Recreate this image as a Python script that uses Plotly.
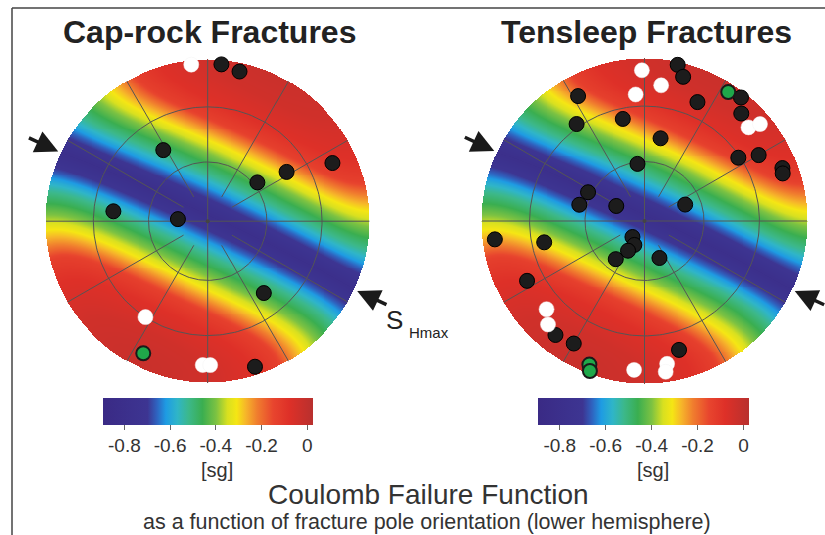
import numpy as np
import plotly.graph_objects as go

W, H = 825, 535
FONT = "Liberation Sans, Arial, sans-serif"

# ---------------------------------------------------------------------------
# Fracture poles (trend / plunge, degrees, lower hemisphere)
# ---------------------------------------------------------------------------
cap_black_trend = [5, 12, 328, 65, 58, 52, 276, 274, 142, 162]
cap_black_plunge = [3, 6, 47, 16, 42, 58, 41, 75, 43, 6]
cap_white_trend = [354, 213, 182, 179]
cap_white_plunge = [3, 30, 12, 12]
cap_green_trend = [206]
cap_green_plunge = [10]

ten_black_trend = [12, 15, 332, 325, 348, 24, 38, 42, 11, 56, 60, 69, 71, 353, 297,
                   284, 298, 68, 263, 258, 217, 203, 209, 217, 158, 243, 218, 210, 165]
ten_black_plunge = [2, 9, 14, 28, 36, 21, 4, 12, 47, 31, 20, 10, 11, 61, 58,
                    56, 74, 68, 8, 37, 80, 77, 73, 66, 70, 20, 12, 14, 19]
ten_white_trend = [359, 7, 356, 48, 50, 228, 223, 184, 171, 172]
ten_white_plunge = [8, 17, 23, 15, 8, 20, 14, 9, 12, 7]
ten_green_trend = [33, 201, 200]
ten_green_plunge = [6, 6, 2]

# Stress frame: S_Hmax horizontal; Shmin axis tilted a few degrees
shmax_trend = 115
shmin_plunge = 3
shmax_weight = 0.61   # relative weight of the S_Hmax component in the pole angle

# Coulomb failure function vs. effective angle between pole and Shmin axis
pole_angle_deg = [0, 20, 35, 44, 49, 53, 56, 61, 66.5, 72, 76, 80, 84, 90]
cff_value = [-0.02, -0.04, -0.08, -0.13, -0.22, -0.28, -0.32, -0.39, -0.46, -0.53,
             -0.59, -0.66, -0.72, -0.80]

# colour scale
cmin, cmax = -0.895, 0.024
scale_values = [-0.895, -0.70, -0.66, -0.62, -0.57, -0.52, -0.46, -0.40, -0.35,
                -0.31, -0.27, -0.22, -0.15, -0.08, 0.024]
scale_colors = ["#3a2a85", "#3d3592", "#2f62bf", "#1e9be3", "#2fb5c8", "#3cb88a",
                "#3aae50", "#7cc242", "#d8e020", "#f5e614", "#f6b52a", "#f07d2e",
                "#e8452e", "#de3028", "#b8302e"]
tick_vals = [-0.8, -0.6, -0.4, -0.2, 0]
tick_text = ["-0.8", "-0.6", "-0.4", "-0.2", "0"]

colorscale = [[(v - cmin) / (cmax - cmin), c] for v, c in zip(scale_values, scale_colors)]
colorscale[0][0] = 0.0
colorscale[-1][0] = 1.0


def unit(trend, plunge):
    t, p = np.radians(trend), np.radians(plunge)
    return np.array([np.cos(p) * np.sin(t), np.cos(p) * np.cos(t), np.sin(p)])


def project(trend, plunge):
    """Equal-area (Schmidt) projection, lower hemisphere, unit radius."""
    t = np.radians(np.asarray(trend, float))
    p = np.radians(np.asarray(plunge, float))
    r = np.sqrt(2) * np.sin((np.pi / 2 - p) / 2)
    return r * np.sin(t), r * np.cos(t)


# CFF field over the net
n = 331
g = np.linspace(-1, 1, n)
X, Y = np.meshgrid(g, g)
R = np.hypot(X, Y)
theta = 2 * np.arcsin(np.clip(R, 0, 1) / np.sqrt(2))
az = np.arctan2(X, Y)
pole = np.stack([np.sin(theta) * np.sin(az), np.sin(theta) * np.cos(az), np.cos(theta)])

h_ax = unit(shmax_trend + 90, shmin_plunge)
H_ax = unit(shmax_trend, 0)
V_ax = np.cross(h_ax, H_ax)
ca = np.tensordot(h_ax, pole, axes=1)
cb = np.tensordot(H_ax, pole, axes=1)
cc = np.tensordot(V_ax, pole, axes=1)
cos2 = ca ** 2 / (ca ** 2 + shmax_weight * cb ** 2 + cc ** 2)
alpha = np.degrees(np.arccos(np.sqrt(np.clip(cos2, 0, 1))))
Z = np.interp(alpha, pole_angle_deg, cff_value)
Z = np.round(Z, 3).astype(object)
Z[R > 1.0] = None
Z = Z.tolist()

# net geometry on the page
nets = [
    dict(cx=207.7, cy=221.2, r=161.7, cbx=207.7, cblen=210,
         title="Cap-rock Fractures", tx=209, data=(
             (cap_black_trend, cap_black_plunge),
             (cap_white_trend, cap_white_plunge),
             (cap_green_trend, cap_green_plunge))),
    dict(cx=644.5, cy=221.0, r=162.5, cbx=643.5, cblen=211,
         title="Tensleep Fractures", tx=646, data=(
             (ten_black_trend, ten_black_plunge),
             (ten_white_trend, ten_white_plunge),
             (ten_green_trend, ten_green_plunge))),
]
K = 1.1  # axis half-range in net radii

fig = go.Figure()
layout_axes = {}
annotations = []
shapes = []

for i, net in enumerate(nets):
    xa = "x" if i == 0 else "x2"
    ya = "y" if i == 0 else "y2"
    xkey = "xaxis" if i == 0 else "xaxis2"
    ykey = "yaxis" if i == 0 else "yaxis2"
    half = K * net["r"]
    layout_axes[xkey] = dict(domain=[(net["cx"] - half) / W, (net["cx"] + half) / W],
                             range=[-K, K], visible=False, fixedrange=True,
                             anchor=ya)
    layout_axes[ykey] = dict(domain=[(H - net["cy"] - half) / H, (H - net["cy"] + half) / H],
                             range=[-K, K], visible=False, fixedrange=True,
                             anchor=xa)

    fig.add_trace(go.Heatmap(
        x=g, y=g, z=Z, xaxis=xa, yaxis=ya, zmin=cmin, zmax=cmax,
        colorscale=colorscale, zsmooth=False, hoverinfo="skip",
        colorbar=dict(orientation="h", x=net["cbx"] / W, xanchor="center",
                      y=(H - 398) / H, yanchor="top", len=net["cblen"] / W,
                      lenmode="fraction", thickness=27, thicknessmode="pixels",
                      xpad=0, ypad=0, outlinewidth=0, ticks="outside", ticklen=5,
                      tickwidth=1, tickcolor="#666", tickvals=tick_vals,
                      ticktext=tick_text,
                      tickfont=dict(family=FONT, size=19, color="#333"))))

    # grid: small circles at 30 and 60 degrees from the vertical
    tt = np.linspace(0, 2 * np.pi, 241)
    for rr in (np.sqrt(2) * np.sin(np.radians(15)), np.sqrt(2) * np.sin(np.radians(30))):
        fig.add_trace(go.Scatter(x=rr * np.sin(tt), y=rr * np.cos(tt), mode="lines",
                                 line=dict(color="#555", width=1), xaxis=xa, yaxis=ya,
                                 hoverinfo="skip"))
    # N-S and E-W diameters
    fig.add_trace(go.Scatter(x=[-1, 1, None, 0, 0], y=[0, 0, None, -1, 1], mode="lines",
                             line=dict(color="#555", width=1), xaxis=xa, yaxis=ya,
                             hoverinfo="skip"))
    # radial spokes every 30 degrees
    r0 = np.sqrt(2) * np.sin(np.radians(7))
    sx, sy = [], []
    for a in (30, 60, 120, 150, 210, 240, 300, 330):
        ar = np.radians(a)
        sx += [r0 * np.sin(ar), np.sin(ar), None]
        sy += [r0 * np.cos(ar), np.cos(ar), None]
    fig.add_trace(go.Scatter(x=sx, y=sy, mode="lines", line=dict(color="#555", width=1),
                             xaxis=xa, yaxis=ya, hoverinfo="skip"))
    fig.add_trace(go.Scatter(x=[0], y=[0], mode="markers",
                             marker=dict(size=4, color="#444"), xaxis=xa, yaxis=ya,
                             hoverinfo="skip"))

    # poles
    styles = [dict(size=15, color="#1c1c1c", line=dict(color="#000", width=1)),
              dict(size=15, color="#ffffff", line=dict(color="#f2f2f2", width=0.5)),
              dict(size=14, color="#1fa84a", line=dict(color="#1a1a1a", width=2))]
    for (tr, pl), st in zip(net["data"], styles):
        px, py = project(tr, pl)
        fig.add_trace(go.Scatter(x=px, y=py, mode="markers", marker=st, xaxis=xa,
                                 yaxis=ya, cliponaxis=False))

    # S_Hmax arrows
    for t in (shmax_trend + 180, shmax_trend):
        ar = np.radians(t)
        annotations.append(dict(
            x=1.02 * np.sin(ar), y=1.02 * np.cos(ar), xref=xa, yref=ya,
            ax=1.23 * np.sin(ar), ay=1.23 * np.cos(ar), axref=xa, ayref=ya,
            text="", showarrow=True, arrowhead=2, arrowsize=1.3, arrowwidth=3.5,
            arrowcolor="#1a1a1a", standoff=0))

    # title and unit
    annotations.append(dict(x=net["tx"] / W, y=(H - 32) / H, xref="paper", yref="paper",
                            text="<b>" + net["title"] + "</b>", showarrow=False,
                            xanchor="center", yanchor="middle",
                            font=dict(family=FONT, size=32, color="#222")))
    annotations.append(dict(x=(net["cbx"] + 9) / W, y=(H - 470) / H, xref="paper",
                            yref="paper", text="[sg]", showarrow=False,
                            xanchor="center", yanchor="middle",
                            font=dict(family=FONT, size=20, color="#333")))

# S_Hmax label
annotations.append(dict(x=394.5 / W, y=(H - 320) / H, xref="paper", yref="paper",
                        text="S", showarrow=False, xanchor="center", yanchor="middle",
                        font=dict(family=FONT, size=26, color="#222")))
annotations.append(dict(x=428.5 / W, y=(H - 332) / H, xref="paper", yref="paper",
                        text="Hmax", showarrow=False, xanchor="center", yanchor="middle",
                        font=dict(family=FONT, size=15, color="#222")))

# caption
annotations.append(dict(x=428 / W, y=(H - 494) / H, xref="paper", yref="paper",
                        text="Coulomb Failure Function", showarrow=False,
                        xanchor="center", yanchor="middle",
                        font=dict(family=FONT, size=28, color="#333")))
annotations.append(dict(x=427 / W, y=(H - 522) / H, xref="paper", yref="paper",
                        text="as a function of fracture pole orientation (lower hemisphere)",
                        showarrow=False, xanchor="center", yanchor="middle",
                        font=dict(family=FONT, size=21.5, color="#333")))

# frame
shapes.append(dict(type="line", xref="paper", yref="paper", x0=12 / W, x1=1,
                   y0=(H - 8) / H, y1=(H - 8) / H, line=dict(color="#444", width=1.5)))
shapes.append(dict(type="line", xref="paper", yref="paper", x0=12 / W, x1=12 / W,
                   y0=0, y1=(H - 8) / H, line=dict(color="#444", width=1.5)))

fig.update_layout(width=W, height=H, margin=dict(l=0, r=0, t=0, b=0),
                  paper_bgcolor="white", plot_bgcolor="rgba(0,0,0,0)",
                  showlegend=False, annotations=annotations, shapes=shapes,
                  **layout_axes)

fig.write_html("out.html")
